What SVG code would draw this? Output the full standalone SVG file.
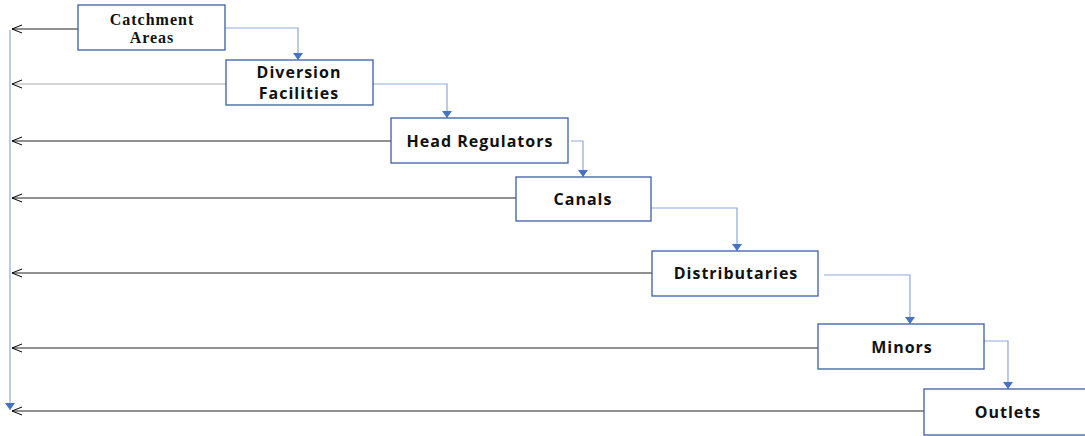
<svg xmlns="http://www.w3.org/2000/svg" width="1085" height="436" viewBox="0 0 1085 436">
<defs>
<marker id="open" markerWidth="12" markerHeight="10" refX="11" refY="5" orient="auto" markerUnits="userSpaceOnUse">
<path d="M1,1 L11,5 L1,9" fill="none" stroke="#000" stroke-width="1"/>
</marker>
<marker id="tri" markerWidth="10" markerHeight="8" refX="5" refY="7" orient="0" markerUnits="userSpaceOnUse">
<path d="M0,0 L10,0 L5,7 Z" fill="#4472c4"/>
</marker>
</defs>
<style>
.box{fill:#fff;stroke:#3a5da8;stroke-width:1.3}
.lbl{font-family:"Open Sans","Liberation Sans",sans-serif;font-weight:bold;font-size:16px;fill:#111;text-anchor:middle;letter-spacing:1px}
.ser{font-family:"Liberation Serif",serif;font-weight:bold;font-size:16px;fill:#111;text-anchor:middle;letter-spacing:1px}
.back{fill:none;stroke:#222;stroke-width:1;marker-end:url(#open)}
.flow{fill:none;stroke:#8eaadb;stroke-width:1.2;marker-end:url(#tri)}
</style>
<g id="connectors">
<path d="M10,30 L10,410" fill="none" stroke="#8eaadb" stroke-width="1.2" marker-end="url(#tri)"/>
<path class="back" d="M88,29 L12,29"/>
<path class="back" d="M226,84 L12,84" style="stroke:#aaa"/>
<path class="back" d="M391,141 L12,141"/>
<path class="back" d="M516,198 L12,198"/>
<path class="back" d="M652,273 L12,273"/>
<path class="back" d="M818,348 L12,348"/>
<path class="back" d="M924,411 L12,411"/>
<path class="flow" d="M225,28 L298,28 L298,60"/>
<path class="flow" d="M373,84 L447,84 L447,118"/>
<path class="flow" d="M571,141 L583,141 L583,177"/>
<path class="flow" d="M651,208 L737,208 L737,251"/>
<path class="flow" d="M824,275 L910,275 L910,324"/>
<path class="flow" d="M984,341 L1008,341 L1008,389"/>
</g>
<g id="catchment"><rect class="box" x="78" y="5" width="147" height="45"/><text class="ser" x="152" y="25">Catchment</text><text class="ser" x="152" y="43">Areas</text></g>
<g id="diversion"><rect class="box" x="226" y="60" width="147" height="45"/><text class="lbl" x="299" y="78">Diversion</text><text class="lbl" x="299" y="99">Facilities</text></g>
<g id="head"><rect class="box" x="391" y="118" width="177" height="45"/><text class="lbl" x="480" y="147">Head Regulators</text></g>
<g id="canals"><rect class="box" x="516" y="177" width="135" height="44"/><text class="lbl" x="583" y="205">Canals</text></g>
<g id="distributaries"><rect class="box" x="652" y="251" width="166" height="45"/><text class="lbl" x="736" y="279">Distributaries</text></g>
<g id="minors"><rect class="box" x="818" y="324" width="166" height="45"/><text class="lbl" x="902" y="353">Minors</text></g>
<g id="outlets"><rect class="box" x="924" y="389" width="165" height="46"/><text class="lbl" x="1008" y="418">Outlets</text></g>
</svg>
